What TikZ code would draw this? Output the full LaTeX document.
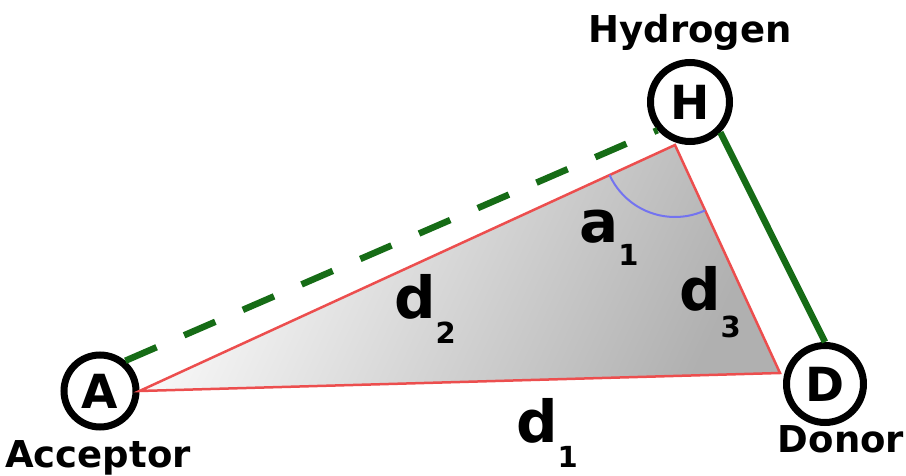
\documentclass[tikz,border=0pt]{standalone}
\usepackage{fontspec}
\setmainfont{DejaVu Sans}
\usetikzlibrary{angles,calc}
\definecolor{hgreen}{RGB}{22,108,22}
\definecolor{tred}{RGB}{236,78,78}
\definecolor{ablue}{RGB}{115,115,240}
\begin{document}
\begin{tikzpicture}[x=1pt,y=1pt,
  atom/.style={circle,draw=black,line width=7pt,fill=white,inner sep=0pt,
    font=\fontsize{47}{47}\selectfont\bfseries},
  lbl/.style={inner sep=0pt,anchor=base,font=\fontsize{37}{37}\selectfont\bfseries},
  sym/.style={inner sep=0pt,anchor=base west,font=\fontsize{58}{58}\selectfont\bfseries},
  hbond/.style={hgreen,line width=6.5pt,dash pattern=on 34pt off 30pt},
  cbond/.style={hgreen,line width=6.5pt},
  tri/.style={tred,line width=2.5pt,left color=gray!3,right color=gray!62,shading angle=65},
  ang/.style={draw=ablue,line width=2pt,angle radius=72pt}]
\useasboundingbox (0,0) rectangle (906,475);
\node[atom,minimum size=72pt] (A) at (100,84) {A};
\node[atom,minimum size=79pt] (H) at (690,373) {H};
\node[atom,minimum size=77pt] (D) at (825,91) {D};
\coordinate (t1) at (A.east);
\coordinate (t2) at (675,330);
\coordinate (t3) at (780,102);
\draw[tri] (t1) -- (t2) -- (t3) -- cycle;
\pic[ang] {angle=t1--t2--t3};
\draw[hbond] (A.50) -- (H.221);
\draw[cbond] (H.-45) -- (D.north);
\node[lbl] (hyd) at (690,432) {Hydrogen};
\node[lbl] (acc) at (98,8) {Acceptor};
\node[lbl] (don) at (841,23) {Donor};
\node[sym] (d2) at (394,157) {d\raisebox{-25pt}{\fontsize{29}{29}\selectfont 2}};
\node[sym] (d1) at (516,33) {d\raisebox{-25pt}{\fontsize{29}{29}\selectfont 1}};
\node[sym] (d3) at (679,165) {d\raisebox{-27pt}{\fontsize{29}{29}\selectfont 3}};
\node[sym] (a1) at (579,233) {a\raisebox{-23pt}{\fontsize{29}{29}\selectfont 1}};
\end{tikzpicture}
\end{document}
